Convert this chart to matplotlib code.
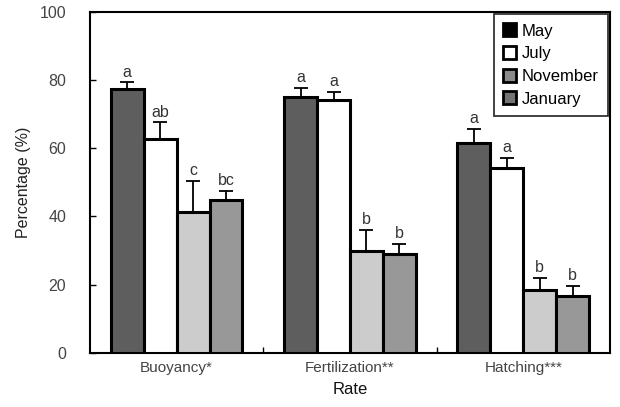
import numpy as np
import matplotlib
matplotlib.use('Agg')
import matplotlib.pyplot as plt
from matplotlib.patches import Patch

plt.rcParams['font.family'] = ['Liberation Sans', 'DejaVu Sans']

# dados
categorias = ['Buoyancy*', 'Fertilization**', 'Hatching***']
meses = ['May', 'July', 'November', 'January']
may = [77.3, 75.0, 61.5]
july = [62.6, 74.0, 54.3]
november = [41.3, 30.0, 18.5]
january = [44.7, 29.0, 16.8]
may_err = [2.0, 2.7, 4.2]
july_err = [5.0, 2.5, 2.9]
november_err = [9.2, 6.0, 3.5]
january_err = [2.8, 3.0, 2.8]
letras = [['a', 'ab', 'c', 'bc'],
          ['a', 'a', 'b', 'b'],
          ['a', 'a', 'b', 'b']]

valores = [may, july, november, january]
erros = [may_err, july_err, november_err, january_err]
cores_barra = ['#5e5e5e', '#ffffff', '#cccccc', '#989898']
cores_legenda = ['#000000', '#ffffff', '#8a8a8a', '#747474']

fig = plt.figure(figsize=(6.2, 4.07), dpi=100)
ax = fig.add_axes([0.145, 0.133, 0.839, 0.838])

ind = np.arange(len(categorias))
width = 0.19
for i in range(len(meses)):
    x = ind - 1.5 * width + i * width
    ax.bar(x, valores[i], width, color=cores_barra[i], edgecolor='black',
           linewidth=2.2, zorder=3)
    ax.errorbar(x, valores[i], yerr=[np.zeros(3), erros[i]], fmt='none',
                ecolor='black', elinewidth=1.3, capsize=5, capthick=1.3, zorder=2)
    for j in range(len(categorias)):
        ax.text(x[j], valores[i][j] + erros[i][j] + 0.8, letras[j][i],
                ha='center', va='bottom', fontsize=11.5, color='#333333')

ax.set_xlim(-0.5, 2.5)
ax.set_ylim(0, 100)
ax.set_yticks(np.arange(0, 101, 20))
ax.set_xticks(ind)
ax.set_xticklabels(categorias, fontsize=11, color='#444444')
ax.set_xticks([0.5, 1.5], minor=True)
ax.tick_params(axis='x', which='major', length=0, pad=6)
ax.tick_params(axis='x', which='minor', direction='in', length=4, width=1)
ax.tick_params(axis='y', direction='in', length=4, width=1, labelsize=11.5,
               labelcolor='#444444', pad=17)
for s in ax.spines.values():
    s.set_linewidth(1.5)

ax.set_ylabel('Percentage (%)', fontsize=11.5, color='#222222', labelpad=6)
ax.set_xlabel('Rate', fontsize=12, color='#111111', labelpad=5)

handles = [Patch(facecolor=cores_legenda[i], edgecolor='black', linewidth=2)
           for i in range(len(meses))]
leg = ax.legend(handles, meses, loc='upper right', fontsize=12, frameon=True,
                fancybox=False, edgecolor='black', handlelength=0.8,
                handleheight=0.8, handletextpad=0.3, borderpad=0.55,
                labelspacing=0.45, borderaxespad=0.15)
leg.get_frame().set_linewidth(1.3)

plt.savefig('out.png', dpi=100)
